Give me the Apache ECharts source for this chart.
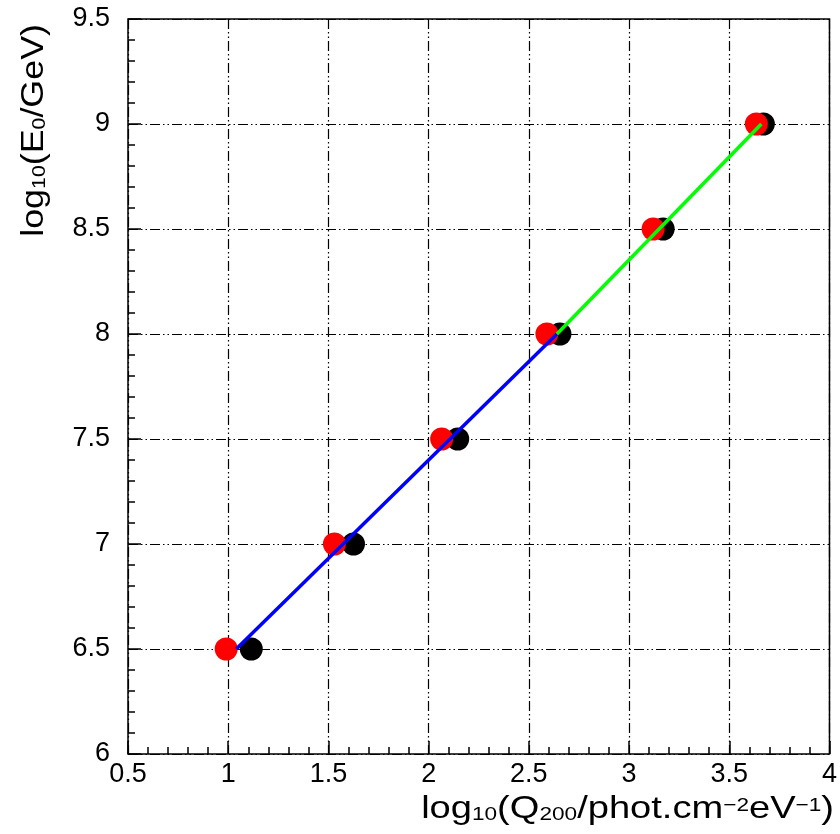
<!DOCTYPE html>
<html>
<head>
<meta charset="utf-8">
<script src="https://cdn.jsdelivr.net/npm/echarts@6/dist/echarts.min.js"></script>
<style>
html,body{margin:0;padding:0;background:#fff;}
#chart{width:840px;height:834px;}
</style>
</head>
<body>
<div id="chart"></div>
<script>
// Data
const energies = [6.5, 7.0, 7.5, 8.0, 8.5, 9.0];          // log10(E0/GeV)
const qRed     = [0.99, 1.53, 2.065, 2.59, 3.12, 3.635];  // red points
const qBlack   = [1.115, 1.625, 2.145, 2.655, 3.17, 3.67]; // black points
const blueFitX = [1.04, 2.64];
const blueFitY = [6.5, 8.0];
const greenFitX = [2.64, 3.66];
const greenFitY = [8.0, 9.0];
const xTicks = [0.5, 1, 1.5, 2, 2.5, 3, 3.5, 4];
const yTicks = [6, 6.5, 7, 7.5, 8, 8.5, 9, 9.5];

const zip = (xs, ys) => xs.map((x, i) => [x, ys[i]]);

const FONT = '"Liberation Sans", Arial, Helvetica, sans-serif';
const gridDash = [10, 3, 1.5, 3, 1.5, 3];

const chart = echarts.init(document.getElementById('chart'), null, {renderer: 'canvas'});

const axisCommon = {
  type: 'value',
  interval: 0.5,
  axisLine: {show: false},
  axisTick: {show: true, inside: true, length: 13, lineStyle: {color: '#000', width: 1.5}},
  minorTick: {show: true, splitNumber: 5, length: 7, lineStyle: {color: '#000', width: 1.5}},
  splitLine: {show: true, lineStyle: {color: '#000', width: 1.2, type: gridDash}},
  axisLabel: {color: '#000', fontSize: 27, fontFamily: FONT}
};

chart.setOption({
  animation: false,
  backgroundColor: '#fff',
  grid: {left: 128, top: 19, right: 5, bottom: 80, show: true, borderColor: '#000', borderWidth: 1.5, backgroundColor: 'transparent'},
  xAxis: Object.assign({}, axisCommon, {
    min: xTicks[0], max: xTicks[xTicks.length - 1],
    axisLabel: Object.assign({}, axisCommon.axisLabel, {margin: 7, showMinLabel: true, showMaxLabel: true,
      formatter: v => String(v)})
  }),
  yAxis: Object.assign({}, axisCommon, {
    min: yTicks[0], max: yTicks[yTicks.length - 1],
    axisLabel: Object.assign({}, axisCommon.axisLabel, {margin: 18, showMinLabel: true, showMaxLabel: true,
      formatter: v => String(v)})
  }),
  graphic: [
    {
      type: 'text', x: 834, y: 809, scaleX: 1.19,
      style: {
        text: '{n|log}{s|10}{n|(Q}{s|200}{n|/phot.cm}{p|−2}{n|eV}{p|−1}{n|)}',
        fill: '#000',
        align: 'right', verticalAlign: 'middle',
        rich: {
          n: {fontSize: 32, fontFamily: FONT, lineHeight: 40, verticalAlign: 'middle'},
          s: {fontSize: 19, fontFamily: FONT, lineHeight: 40, verticalAlign: 'bottom', padding: [0,0,5,0]},
          p: {fontSize: 19, fontFamily: FONT, lineHeight: 40, verticalAlign: 'top', padding: [7,0,0,0]}
        }
      }
    },
    {
      type: 'text', x: 34, y: 24, rotation: Math.PI / 2, scaleX: 1.12,
      style: {
        text: '{n|log}{s|10}{n|(E}{s|0}{n|/GeV)}',
        fill: '#000',
        align: 'right', verticalAlign: 'middle',
        rich: {
          n: {fontSize: 32, fontFamily: FONT, lineHeight: 40, verticalAlign: 'middle'},
          s: {fontSize: 19, fontFamily: FONT, lineHeight: 40, verticalAlign: 'bottom', padding: [0,0,5,0]}
        }
      }
    }
  ],
  series: [
    {type: 'scatter', data: zip(qBlack, energies), symbol: 'circle', symbolSize: 23,
     itemStyle: {color: '#000', opacity: 1}, z: 2},
    {type: 'scatter', data: zip(qRed, energies), symbol: 'circle', symbolSize: 23,
     itemStyle: {color: '#ff0000', opacity: 1}, z: 3},
    {type: 'line', data: zip(blueFitX, blueFitY), showSymbol: false, symbol: 'none',
     lineStyle: {color: '#0000ff', width: 3.5}, z: 4},
    {type: 'line', data: zip(greenFitX, greenFitY), showSymbol: false, symbol: 'none',
     lineStyle: {color: '#00ff00', width: 3.5}, z: 4}
  ]
});
</script>
</body>
</html>
